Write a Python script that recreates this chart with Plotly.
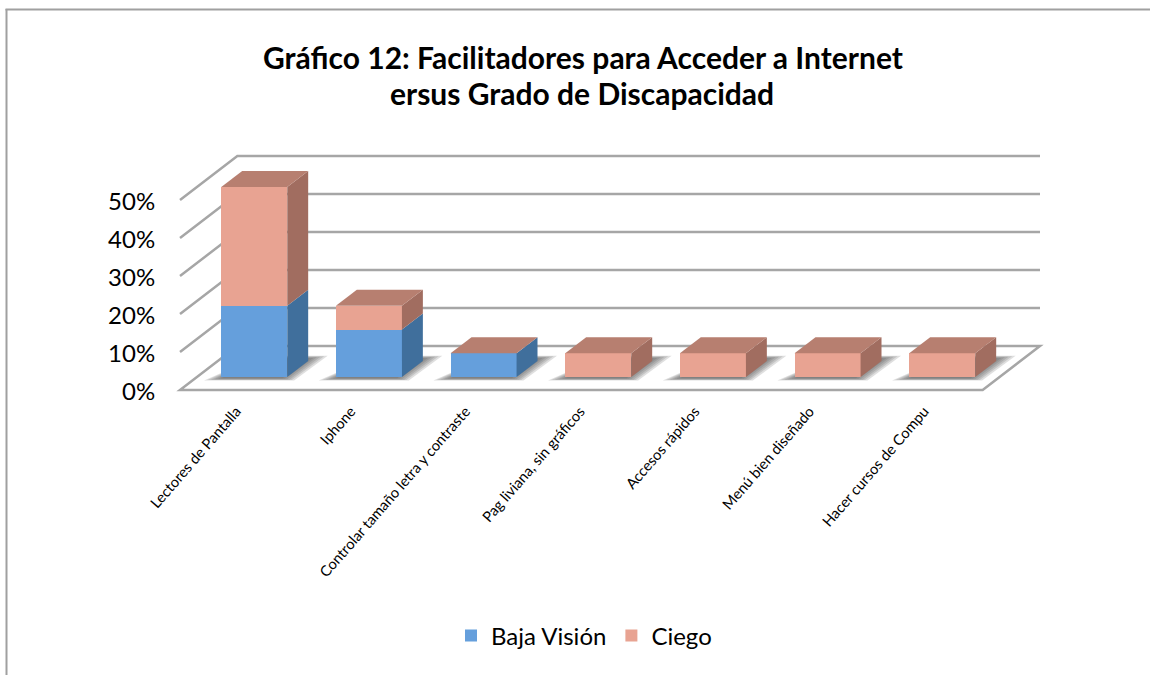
import plotly.graph_objects as go

categories = ["Lectores de Pantalla", "Iphone", "Controlar tamaño letra y contraste",
              "Pag liviana, sin gráficos", "Accesos rápidos", "Menú bien diseñado", "Hacer cursos de Compu"]
baja_vision = [18.75, 12.5, 6.25, 0, 0, 0, 0]
ciego = [31.25, 6.25, 0, 6.25, 6.25, 6.25, 6.25]
y_ticks = [0, 10, 20, 30, 40, 50]
y_labels = ["0%", "10%", "20%", "30%", "40%", "50%"]

# oblique projection: depth 0..1 shifts a point right and up, in axis units
DX, DY = 0.5, 11.58
D_FRONT, D_BACK = 0.295, 0.66
BAR_W = 0.5756
N = len(categories)
XMIN, XMAX = -0.535, 7.035
YMIN, YMAX = -1.05, 62.63
GRID = "#a6a6a6"
BLUE, BLUE_SIDE = "#659fdc", "#406f9c"
PINK, PINK_SIDE, PINK_TOP = "#e8a392", "#a16d60", "#b77f70"
FONT = "Lato"

# plot area in pixels, used for the frame only
PL, PR, PT, PB = 176, 1044, 152, 394


def proj(x, v, d):
    return x + d * DX, v + d * DY


def poly(points):
    xs, ys = [], []
    for x, v, d in points:
        px, py = proj(x, v, d)
        xs.append(px)
        ys.append(py)
    return xs, ys


def path(points, close=True):
    xs, ys = poly(points)
    return "M" + "L".join(f"{a:.4f},{b:.4f}" for a, b in zip(xs, ys)) + ("Z" if close else "")


def face(points, color):
    xs, ys = poly(points)
    return go.Scatter(x=xs + xs[:1], y=ys + ys[:1], mode="lines", fill="toself", fillcolor=color,
                      line=dict(width=0), showlegend=False, hoverinfo="skip", cliponaxis=False)


def fx(px_):
    return (px_ - PL) / (PR - PL)


def fy(py_):
    return (PB - py_) / (PB - PT)


shapes = []
x_left, x_right = -0.5, N - 0.5
# floor
shapes.append(dict(type="path", xref="x", yref="y", layer="below",
                   path=path([(x_left, 0, 0), (x_right, 0, 0), (x_right, 0, 1), (x_left, 0, 1)]),
                   line=dict(color=GRID, width=2.5), fillcolor="white"))
# walls and gridlines
for t in y_ticks:
    if t == 0:
        continue
    shapes.append(dict(type="path", xref="x", yref="y", layer="below",
                       path=path([(x_left, t, 0), (x_left, t, 1), (x_right, t, 1)], close=False),
                       line=dict(color=GRID, width=2.5)))
# soft shadows on the floor
for i in range(N):
    l, r = i - BAR_W / 2, i + BAR_W / 2
    for pad in [0.0, 0.025, 0.05, 0.075, 0.10, 0.125]:
        shapes.append(dict(type="path", xref="x", yref="y", layer="below", opacity=0.18,
                           fillcolor="#505050", line=dict(width=0),
                           path=path([(l - 0.11 + pad, 0, D_FRONT - 0.08 + pad / 2.5),
                                      (r + 0.10 - pad, 0, D_FRONT - 0.08 + pad / 2.5),
                                      (r + 0.11 - pad, 0, D_BACK + 0.12 - pad / 2),
                                      (l + 0.10, 0, D_BACK + 0.12 - pad / 2)])))

fig = go.Figure()
x_front = [i + D_FRONT * DX for i in range(N)]
base0 = D_FRONT * DY
fig.add_trace(go.Bar(x=x_front, y=baja_vision, base=[base0] * N, width=BAR_W, name="Baja Visión",
                     marker=dict(color=BLUE, line=dict(width=0)), hoverinfo="skip"))
fig.add_trace(go.Bar(x=x_front, y=ciego, base=[base0 + b for b in baja_vision], width=BAR_W, name="Ciego",
                     marker=dict(color=PINK, line=dict(width=0)), hoverinfo="skip"))

for i in range(N):
    l, r = i - BAR_W / 2, i + BAR_W / 2
    b = baja_vision[i]
    t = b + ciego[i]
    if b > 0:
        fig.add_trace(face([(r, 0, D_FRONT), (r, 0, D_BACK), (r, b, D_BACK), (r, b, D_FRONT)], BLUE_SIDE))
    if ciego[i] > 0:
        fig.add_trace(face([(r, b, D_FRONT), (r, b, D_BACK), (r, t, D_BACK), (r, t, D_FRONT)], PINK_SIDE))
    fig.add_trace(face([(l, t, D_FRONT), (r, t, D_FRONT), (r, t, D_BACK), (l, t, D_BACK)], PINK_TOP))

# chart frame
shapes.append(dict(type="line", xref="paper", yref="paper", x0=fx(6.5), x1=fx(6.5), y0=fy(9), y1=fy(675),
                   line=dict(color="#a0a0a0", width=2)))
shapes.append(dict(type="line", xref="paper", yref="paper", x0=fx(5.5), x1=fx(1150), y0=fy(9.5), y1=fy(9.5),
                   line=dict(color="#a0a0a0", width=2)))

fig.update_layout(
    width=1150, height=675, autosize=False, paper_bgcolor="white", plot_bgcolor="rgba(0,0,0,0)",
    margin=dict(l=PL, r=1150 - PR, t=PT, b=675 - PB),
    barmode="overlay", bargap=0,
    font=dict(family=FONT, color="#000000"),
    title=dict(text="<b>Gráfico 12: Facilitadores para Acceder a Internet</b>",
               x=583 / 1150, xanchor="center", xref="container",
               y=1 - 58 / 675, yanchor="middle", yref="container",
               font=dict(family=FONT, size=30, color="#000000")),
    annotations=[dict(text="<b>ersus Grado de Discapacidad</b>", xref="paper", yref="paper",
                      x=fx(582), y=fy(93), xanchor="center", yanchor="middle", showarrow=False,
                      font=dict(family=FONT, size=30, color="#000000"))],
    xaxis=dict(range=[XMIN, XMAX], tickmode="array", tickvals=[i - 0.01 for i in range(N)], ticktext=categories,
               tickangle=-49, tickfont=dict(size=14.7, family=FONT), showgrid=False, zeroline=False, showline=False,
               ticks="outside", ticklen=2, tickcolor="rgba(0,0,0,0)"),
    yaxis=dict(range=[YMIN, YMAX], tickmode="array", tickvals=y_ticks, ticktext=y_labels,
               tickfont=dict(size=24, family=FONT), showgrid=False, zeroline=False, showline=False,
               ticks="outside", ticklen=15, tickcolor="rgba(0,0,0,0)", ticklabelshift=2),
    legend=dict(orientation="h", x=fx(584), xanchor="center", y=1 - 636 / 675, yanchor="middle",
                yref="container", font=dict(size=24, family=FONT), itemclick=False, itemdoubleclick=False,
                traceorder="normal"),
    shapes=shapes,
)
fig.write_html("out.html", config=dict(displayModeBar=False),
               post_script="document.body.style.margin='0';document.documentElement.style.overflow='hidden';")
